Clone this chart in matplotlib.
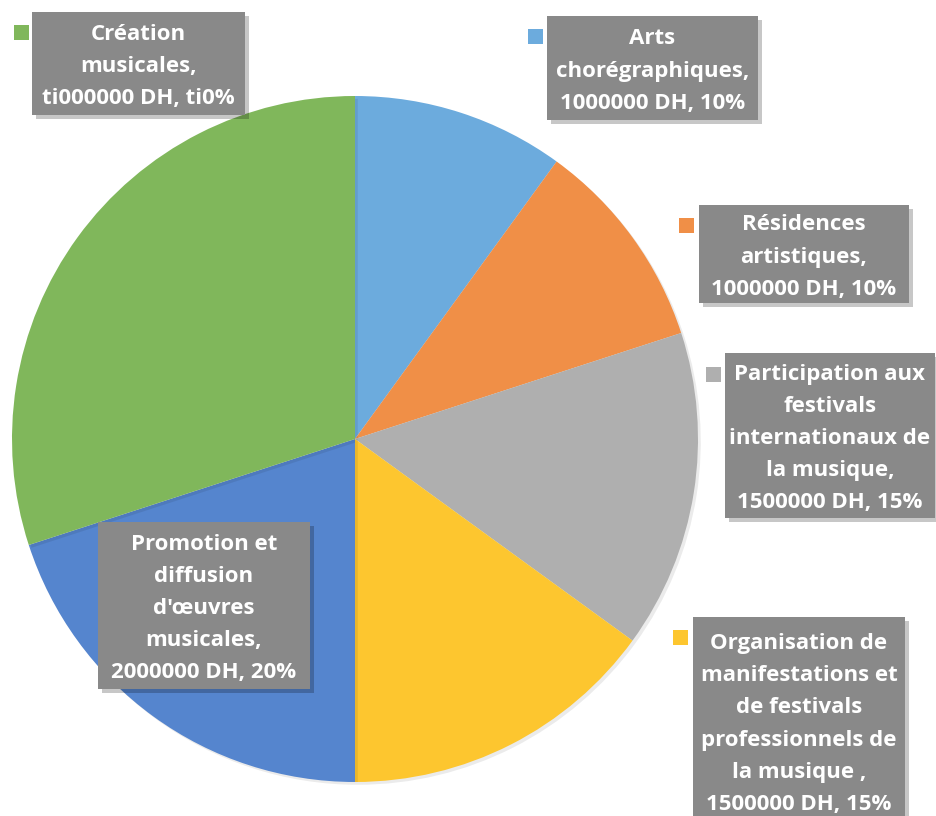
import matplotlib.pyplot as plt
import matplotlib.patheffects as pe
from matplotlib.patches import Rectangle

# Budget split (DH)
categories = ['Arts chorégraphiques', 'Résidences artistiques',
              'Participation aux festivals internationaux de la musique',
              'Organisation de manifestations et de festivals professionnels de la musique',
              "Promotion et diffusion d'œuvres musicales",
              'Création musicales']
values = [1000000, 1000000, 1500000, 1500000, 2000000, 3000000]
colors = ['#6CABDD', '#F08F47', '#AFAFAF', '#FDC62F', '#5585CE', '#80B75B']
# label texts as they appear on the chart (wrapped)
label_texts = [
    'Arts\nchorégraphiques,\n1000000 DH, 10%',
    'Résidences\nartistiques,\n1000000 DH, 10%',
    'Participation aux\nfestivals\ninternationaux de\nla musique,\n1500000 DH, 15%',
    'Organisation de\nmanifestations et\nde festivals\nprofessionnels de\nla musique ,\n1500000 DH, 15%',
    "Promotion et\ndiffusion\nd'œuvres\nmusicales,\n2000000 DH, 20%",
    'Création\nmusicales,\nti000000 DH, ti0%',
]
# label box layout in pixels: (x0, y_top, x1, y_bottom), key square (x, y_top) or None
boxes = [(547, 16, 758, 120), (699, 205, 909, 303), (725, 353, 935, 518),
         (693, 617, 905, 825), (98, 522, 310, 689), (32, 12, 245, 115)]
keys = [(528, 29), (679, 218), (706, 367), (673, 630), None, (14, 25)]

W, H = 936, 816
fig = plt.figure(figsize=(W / 100, H / 100), dpi=100)
ax = fig.add_axes([0, 0, 1, 1])

wedges, _ = ax.pie(values, colors=colors, startangle=90, counterclock=False,
                   center=(355, H - 439), radius=343,
                   wedgeprops=dict(linewidth=0))
for w in wedges:
    w.set_path_effects([pe.SimplePatchShadow(offset=(2, -2), shadow_rgbFace='black', alpha=0.08),
                        pe.Normal()])
ax.set_xlim(0, W)
ax.set_ylim(0, H)
ax.set_aspect('equal')
ax.axis('off')

shadow = [pe.SimplePatchShadow(offset=(3, -3), shadow_rgbFace='black', alpha=0.22), pe.Normal()]
for txt, (x0, yt, x1, yb), key, c in zip(label_texts, boxes, keys, colors):
    r = Rectangle((x0, H - yb), x1 - x0, yb - yt, facecolor='#898989',
                  edgecolor='none', zorder=3)
    r.set_path_effects(shadow)
    ax.add_patch(r)
    ax.text((x0 + x1) / 2, H - (yt + yb) / 2 - 3, txt, ha='center', va='center',
            color='white', fontsize=16, fontweight='bold', family='Open Sans',
            linespacing=1.7, zorder=4)
    if key is not None:
        ax.add_patch(Rectangle((key[0], H - key[1] - 15), 15, 15, facecolor=c,
                               edgecolor='none', zorder=3))

fig.savefig('out.png', dpi=100)
